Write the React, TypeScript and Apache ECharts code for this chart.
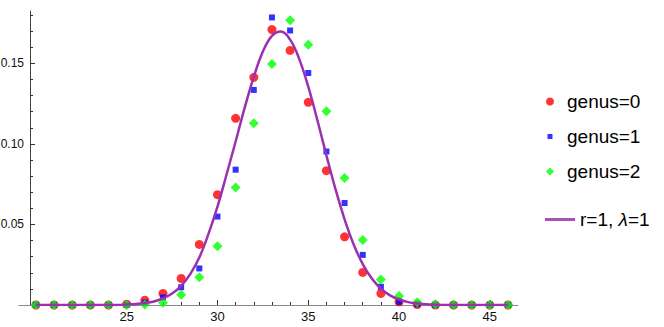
import React, { useEffect, useRef } from "react";
import * as echarts from "echarts";

const xs = [20, 21, 22, 23, 24, 25, 26, 27, 28, 29, 30, 31, 32, 33, 34, 35, 36, 37, 38, 39, 40, 41, 42, 43, 44, 45, 46];
const genus0 = [0, 0, 0, 0, 0, 0.0005, 0.003, 0.0072, 0.0165, 0.0376, 0.0685, 0.1159, 0.1413, 0.171, 0.158, 0.1258, 0.0834, 0.0423, 0.0202, 0.0072, 0.002, 0.0003, 0, 0, 0, 0, 0];
const genus1 = [0, 0, 0, 0, 0, 0, 0.0015, 0.0047, 0.011, 0.0227, 0.0549, 0.084, 0.1335, 0.1785, 0.1704, 0.144, 0.0953, 0.0633, 0.0311, 0.0113, 0.002, 0.0005, 0, 0, 0, 0, 0];
const genus2 = [0, 0, 0, 0, 0, 0, 0.0003, 0.0014, 0.0064, 0.0173, 0.0365, 0.073, 0.1128, 0.1496, 0.1768, 0.1615, 0.1203, 0.0788, 0.0404, 0.0159, 0.0056, 0.0017, 0.0005, 0, 0, 0, 0];

const curveX = [
  20, 20.5, 21, 21.5, 22, 22.5, 23, 23.5, 24, 24.5, 25, 25.5, 26, 26.5, 27, 27.5, 28, 28.5, 29, 29.5,
  30, 30.5, 31, 31.5, 32, 32.5, 33, 33.5, 34, 34.5, 35, 35.5, 36, 36.5, 37, 37.5, 38, 38.5, 39, 39.5,
  40, 40.5, 41, 41.5, 42, 42.5, 43, 43.5, 44, 44.5, 45, 45.5, 46,
];
const curveY = [
  0, 0, 0, 0, 0, 0, 0, 0, 0, 0, 0.0003, 0.0006, 0.0012, 0.0022, 0.0041, 0.0071, 0.0119, 0.0192, 0.0295, 0.044,
  0.061, 0.081, 0.1015, 0.1225, 0.1416, 0.1573, 0.1671, 0.1697, 0.1647, 0.1528, 0.1355, 0.1148, 0.0929, 0.0719, 0.0532, 0.0376, 0.0254, 0.0164, 0.0101, 0.006,
  0.0034, 0.0018, 0.0009, 0.0004, 0.0002, 0, 0, 0, 0, 0, 0, 0, 0,
];

const xMajor = [25, 30, 35, 40, 45];
const xMinor = [20, 21, 22, 23, 24, 26, 27, 28, 29, 31, 32, 33, 34, 36, 37, 38, 39, 41, 42, 43, 44, 46];
const yMajor = [0.05, 0.1, 0.15];
const yMinor = [0.01, 0.02, 0.03, 0.04, 0.06, 0.07, 0.08, 0.09, 0.11, 0.12, 0.13, 0.14, 0.16, 0.17, 0.18];

const names = ["genus=0", "genus=1", "genus=2"];
const lineName = "r=1, λ=1";

const FONT = "'Liberation Sans', Arial, Helvetica, sans-serif";
const PURPLE = "#9b30b0";

export default function App() {
  const ref = useRef<HTMLDivElement>(null);
  useEffect(() => {
    if (!ref.current) return;
    const chart = echarts.init(ref.current, undefined, { renderer: "svg" });
    const pairs = (ys: number[]) => xs.map((x, i) => [x, ys[i]]);
    const xRange = { min: 19.07, max: 46.55 };
    const yRange = { min: 0, max: 0.1825 };
    chart.setOption({
      animation: false,
      backgroundColor: "#ffffff",
      grid: { left: 19, right: 664 - 518, top: 11, bottom: 22, outerBoundsMode: "none", containLabel: false },
      xAxis: [
        {
          type: "value",
          position: "bottom",
          ...xRange,
          axisLine: { show: true, onZero: false, lineStyle: { color: "#8a8a8a", width: 1 } },
          axisTick: { show: true, inside: true, length: 5, customValues: xMajor, lineStyle: { color: "#333" } },
          axisLabel: {
            show: true,
            customValues: xMajor,
            margin: 5,
            color: "#111",
            fontSize: 13,
            fontFamily: FONT,
          },
          splitLine: { show: false },
        },
        {
          type: "value",
          position: "bottom",
          ...xRange,
          axisLine: { show: false },
          axisTick: { show: true, inside: true, length: 3, customValues: xMinor, lineStyle: { color: "#333" } },
          axisLabel: { show: false },
          splitLine: { show: false },
        },
      ],
      yAxis: [
        {
          type: "value",
          position: "left",
          offset: -11,
          ...yRange,
          axisLine: { show: true, onZero: false, lineStyle: { color: "#444", width: 1 } },
          axisTick: { show: true, inside: true, length: 5, customValues: yMajor, lineStyle: { color: "#333" } },
          axisLabel: {
            show: true,
            customValues: yMajor,
            formatter: (v: number) => v.toFixed(2),
            margin: 6,
            color: "#111",
            fontSize: 12,
            fontFamily: FONT,
          },
          splitLine: { show: false },
        },
        {
          type: "value",
          position: "left",
          offset: -11,
          ...yRange,
          axisLine: { show: false },
          axisTick: { show: true, inside: true, length: 3, customValues: yMinor, lineStyle: { color: "#333" } },
          axisLabel: { show: false },
          splitLine: { show: false },
        },
      ],
      legend: [
        {
          orient: "vertical",
          left: 541,
          top: 87,
          itemWidth: 24,
          itemHeight: 8,
          itemGap: 16,
          selectedMode: false,
          textStyle: { fontSize: 19, color: "#000", fontFamily: FONT },
          data: [
            { name: names[0], icon: "circle" },
            { name: names[1], icon: "path://M0,0M8,8M1.5,1.5L6.5,1.5L6.5,6.5L1.5,6.5Z" },
            { name: names[2], icon: "path://M4,0L8,4L4,8L0,4Z" },
          ],
        },
        {
          orient: "vertical",
          left: 540,
          top: 205,
          itemWidth: 30,
          itemHeight: 3,
          selectedMode: false,
          formatter: () => "{a|r=1, }{b|λ}{a|=1}",
          textStyle: {
            fontSize: 19,
            color: "#000",
            fontFamily: FONT,
            rich: {
              a: { fontSize: 19, color: "#000", fontFamily: FONT },
              b: { fontSize: 19, color: "#000", fontFamily: FONT, fontStyle: "italic" },
            },
          },
          data: [{ name: lineName, icon: "path://M0,0L30,0L30,3L0,3Z", itemStyle: { color: "#a850b8" } }],
        },
      ],
      series: [
        {
          name: names[0],
          type: "scatter",
          xAxisIndex: 0,
          yAxisIndex: 0,
          symbol: "circle",
          symbolSize: 9,
          itemStyle: { color: "#ff0000" },
          data: pairs(genus0),
          z: 2,
        },
        {
          name: names[1],
          type: "scatter",
          xAxisIndex: 0,
          yAxisIndex: 0,
          symbol: "rect",
          symbolSize: 6,
          itemStyle: { color: "#0000ff" },
          data: pairs(genus1),
          z: 3,
        },
        {
          name: names[2],
          type: "scatter",
          xAxisIndex: 0,
          yAxisIndex: 0,
          symbol: "diamond",
          symbolSize: 10,
          itemStyle: { color: "#00ff00" },
          data: pairs(genus2),
          z: 4,
        },
        {
          name: lineName,
          type: "line",
          xAxisIndex: 0,
          yAxisIndex: 0,
          symbol: "none",
          smooth: 0.4,
          lineStyle: { color: PURPLE, width: 2.5 },
          itemStyle: { color: PURPLE },
          data: curveX.map((x, i) => [x, curveY[i]]),
          z: 5,
        },
      ],
    });
    return () => chart.dispose();
  }, []);
  return (
    <div
      ref={ref}
      style={{ position: "fixed", left: 0, top: 0, width: 664, height: 327, background: "#fff" }}
    />
  );
}
